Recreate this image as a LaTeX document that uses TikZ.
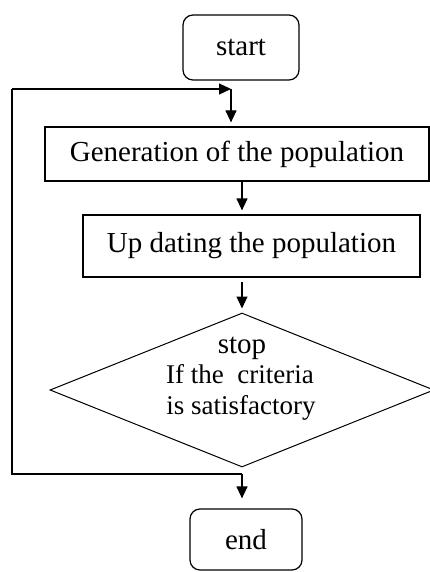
\documentclass[tikz,border=0pt]{standalone}
\usepackage{fontspec}
\setmainfont{Liberation Serif}
\usetikzlibrary{shapes.geometric,arrows.meta,calc}
\begin{document}
\begin{tikzpicture}[x=1pt,y=-1pt,
  line width=1.2pt,
  bigfont/.style={font=\fontsize{29}{34}\selectfont},
  smallfont/.style={font=\fontsize{27}{31}\selectfont},
  term/.style={draw, rounded corners=10pt, inner sep=0pt, bigfont},
  procbox/.style={draw, inner sep=0pt, bigfont},
  decbox/.style={draw, diamond, inner sep=0pt, line width=1pt},
  arr/.style={-{Triangle[width=11pt,length=12pt]}}
]
\useasboundingbox (0,0) rectangle (430,572);
\node[term, minimum width=116pt, minimum height=65pt] (start) at (241,47.5) {start};
\node[procbox, minimum width=384pt, minimum height=54pt] (gen) at (237,154) {Generation of the population};
\node[procbox, minimum width=337pt, minimum height=62pt] (upd) at (251.5,246) {Up dating the population};
\node[decbox, minimum width=384pt, minimum height=154pt] (dec) at (242,390) {};
\node[bigfont, anchor=base, inner sep=0pt] (stoptxt) at (242,353) {stop};
\node[smallfont, anchor=base, inner sep=0pt] (crit1) at (240,383) {If the\ \ criteria};
\node[smallfont, anchor=base, inner sep=0pt] (crit2) at (241,414) {is satisfactory};
\node[term, minimum width=112pt, minimum height=61pt] (endn) at (246,539.5) {end};
\coordinate (lt) at (12,89);
\coordinate (tj) at (231,89);
\coordinate (lb) at (12,474);
\coordinate (bj) at (242,474);
\draw[arr] (lt) -- (tj);
\draw[arr, shorten >=4pt] (tj) -- (tj |- gen.north);
\draw[arr, shorten >=4pt] (gen.south -| dec.north) -- (upd.north -| dec.north);
\draw[arr, shorten >=4pt] ($(upd.south -| dec.north)+(0,4)$) -- (dec.north);
\draw (lt) -- (lb) -- (bj);
\draw[arr, shorten >=10pt] (bj) -- (bj |- endn.north);
\end{tikzpicture}
\end{document}
